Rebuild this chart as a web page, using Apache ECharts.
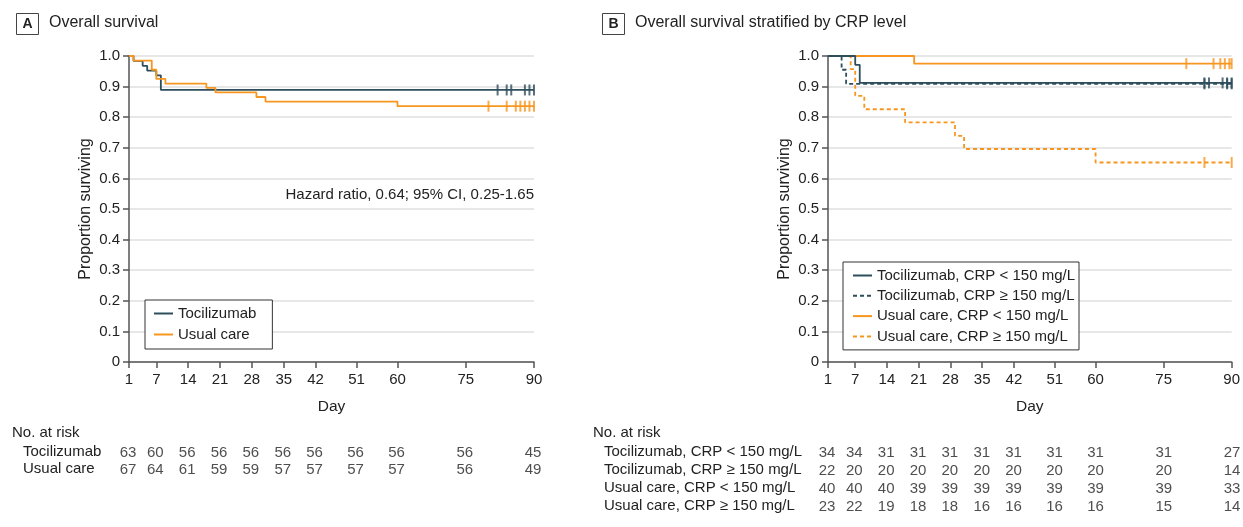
<!DOCTYPE html>
<html>
<head>
<meta charset="utf-8">
<script src="https://cdn.jsdelivr.net/npm/echarts@6/dist/echarts.min.js"></script>
<style>
  html, body { margin: 0; padding: 0; background: #fff; }
  #chart { width: 1243px; height: 527px; }
</style>
</head>
<body>
<div id="chart"></div>
<script>
// x axis ticks (days) and the risk table columns
const dayTicks = [1, 7, 14, 21, 28, 35, 42, 51, 60, 75, 90];

// Panel A - overall survival
const tociDays = [1, 2, 4, 5, 7, 8, 90];
const tociSurv = [1, 0.984, 0.968, 0.952, 0.937, 0.889, 0.889];
const tociCensor = [82, 84, 85, 88, 89, 90];
const usualDays = [1, 2, 6, 7, 9, 18, 20, 29, 31, 60, 90];
const usualSurv = [1, 0.985, 0.955, 0.925, 0.910, 0.896, 0.881, 0.866, 0.851, 0.836, 0.836];
const usualCensor = [80, 84, 86, 87, 88, 89, 90];

// Panel B - stratified by CRP
const tociLowDays = [1, 7, 8, 90];
const tociLowSurv = [1, 0.971, 0.912, 0.912];
const tociLowCensor = [84, 85, 88, 89, 90];
const tociHighDays = [1, 4, 5, 90];
const tociHighSurv = [1, 0.955, 0.909, 0.909];
const tociHighCensor = [84, 89, 90];
const usualLowDays = [1, 20, 90];
const usualLowSurv = [1, 0.975, 0.975];
const usualLowCensor = [80, 86, 87.5, 88.5, 89.5, 90];
const usualHighDays = [1, 6, 7, 9, 18, 29, 31, 60, 90];
const usualHighSurv = [1, 0.957, 0.870, 0.826, 0.783, 0.739, 0.696, 0.652, 0.652];
const usualHighCensor = [84, 90];

// numbers at risk
const riskRowsA = ['Tocilizumab', 'Usual care'];
const riskA = [
  [63, 60, 56, 56, 56, 56, 56, 56, 56, 56, 45],
  [67, 64, 61, 59, 59, 57, 57, 57, 57, 56, 49]
];
const riskRowsB = ['Tocilizumab, CRP < 150 mg/L', 'Tocilizumab, CRP ≥ 150 mg/L',
  'Usual care, CRP < 150 mg/L', 'Usual care, CRP ≥ 150 mg/L'];
const riskB = [
  [34, 34, 31, 31, 31, 31, 31, 31, 31, 31, 27],
  [22, 20, 20, 20, 20, 20, 20, 20, 20, 20, 14],
  [40, 40, 40, 39, 39, 39, 39, 39, 39, 39, 33],
  [23, 22, 19, 18, 18, 16, 16, 16, 16, 15, 14]
];

const DARK = '#2e4e5c';
const ORANGE = '#f7961f';
const FONT = '"Liberation Sans", Arial, sans-serif';
const TXT = '#222';

function pairs(days, surv) {
  return days.map((d, i) => [d, surv[i]]);
}
function censorPts(days, surv, cens) {
  return cens.map(c => {
    let s = surv[0];
    for (let i = 0; i < days.length; i++) if (days[i] <= c) s = surv[i];
    return [c, s];
  });
}
function kmLine(name, days, surv, color, dashed, idx) {
  return {
    name: name, type: 'line', step: 'end', symbol: 'none',
    xAxisIndex: idx, yAxisIndex: idx,
    lineStyle: { color: color, width: 1.8, type: dashed ? [4, 3] : 'solid' },
    itemStyle: { color: color },
    data: pairs(days, surv), z: 3
  };
}
function censor(days, surv, cens, color, idx) {
  return {
    type: 'scatter', symbol: 'rect', symbolSize: [2, 11],
    xAxisIndex: idx, yAxisIndex: idx,
    itemStyle: { color: color }, silent: true,
    data: censorPts(days, surv, cens), z: 4
  };
}
function riskSeries(table, idx) {
  const data = [];
  table.forEach((row, r) => row.forEach((v, c) => data.push([dayTicks[c], r, v])));
  return {
    type: 'scatter', symbolSize: 0, xAxisIndex: idx, yAxisIndex: idx, silent: true,
    label: {
      show: true, position: 'inside', offset: [-1, 1], formatter: p => p.value[2],
      color: TXT, fontSize: 15, fontFamily: FONT
    },
    data: data
  };
}

function plotX(idx) {
  return {
    gridIndex: idx, type: 'value', min: 1, max: 90,
    name: 'Day', nameLocation: 'middle', nameGap: 37,
    nameTextStyle: { color: TXT, fontSize: 15.5, fontFamily: FONT },
    axisLine: { lineStyle: { color: '#555', width: 1.5 } },
    axisTick: { length: 6, customValues: dayTicks, lineStyle: { color: '#555', width: 1.5 } },
    axisLabel: { customValues: dayTicks, margin: 10, color: TXT, fontSize: 15, fontFamily: FONT },
    splitLine: { show: false }
  };
}
function plotY(idx) {
  return {
    gridIndex: idx, type: 'value', min: 0, max: 1, interval: 0.1,
    name: 'Proportion surviving', nameLocation: 'middle', nameGap: 35,
    nameTextStyle: { color: TXT, fontSize: 16, fontFamily: FONT },
    axisLine: { show: true, lineStyle: { color: '#555', width: 1.5 } },
    axisTick: { show: true, length: 6, lineStyle: { color: '#555', width: 1.5 } },
    axisLabel: {
      margin: 9, color: TXT, fontSize: 15, fontFamily: FONT,
      formatter: v => v === 0 ? '0' : v.toFixed(1)
    },
    splitLine: { lineStyle: { color: '#dfdfdf', width: 1.5 } }
  };
}
function riskX(idx) {
  return { gridIndex: idx, type: 'value', min: 1, max: 90, show: false };
}
function riskY(idx, rows, margin) {
  return {
    gridIndex: idx, type: 'category', data: rows, inverse: true,
    axisLine: { show: false }, axisTick: { show: false }, splitLine: { show: false },
    axisLabel: { interval: 0, align: 'left', margin: margin, color: TXT, fontSize: 15, fontFamily: FONT }
  };
}
function legendBox(names, left, top, gap, padding) {
  return {
    data: names,
    orient: 'vertical', left: left, top: top,
    itemWidth: 19, itemHeight: 14, itemGap: gap,
    padding: padding,
    borderColor: '#333', borderWidth: 1, backgroundColor: '#fff',
    itemStyle: { opacity: 0 },
    textStyle: { color: TXT, fontSize: 15, fontFamily: FONT, lineHeight: 14 }
  };
}

const chart = echarts.init(document.getElementById('chart'));
const option = {
  animation: false,
  grid: [
    { left: 129, top: 56, width: 405, height: 306 },
    { left: 828, top: 56, width: 405, height: 306 },
    { left: 129, top: 443.5, width: 405, height: 34 },
    { left: 828, top: 443.3, width: 405, height: 71.6 }
  ],
  xAxis: [plotX(0), plotX(1), riskX(2), riskX(3)],
  yAxis: [plotY(0), plotY(1), riskY(2, riskRowsA, 106), riskY(3, riskRowsB, 224)],
  legend: [
    legendBox(riskRowsA, 145, 300, 6, [6, 16, 7, 8]),
    legendBox(riskRowsB, 843, 262, 5.3, [6, 4, 6, 9])
  ],
  graphic: [
    { type: 'rect', shape: { x: 16.5, y: 13.5, width: 22, height: 21 }, style: { fill: '#fff', stroke: '#444', lineWidth: 1 } },
    { type: 'text', x: 27.5, y: 24, style: { text: 'A', font: 'bold 14px ' + FONT, fill: TXT, align: 'center', verticalAlign: 'middle' } },
    { type: 'text', x: 49, y: 23, style: { text: 'Overall survival', font: '16px ' + FONT, fill: TXT, verticalAlign: 'middle' } },
    { type: 'rect', shape: { x: 602.5, y: 13.5, width: 22, height: 21 }, style: { fill: '#fff', stroke: '#444', lineWidth: 1 } },
    { type: 'text', x: 613.5, y: 24, style: { text: 'B', font: 'bold 14px ' + FONT, fill: TXT, align: 'center', verticalAlign: 'middle' } },
    { type: 'text', x: 635, y: 23, style: { text: 'Overall survival stratified by CRP level', font: '16px ' + FONT, fill: TXT, verticalAlign: 'middle' } },
    { type: 'text', x: 534, y: 195, style: { text: 'Hazard ratio, 0.64; 95% CI, 0.25-1.65', font: '15px ' + FONT, fill: TXT, align: 'right', verticalAlign: 'middle' } },
    { type: 'text', x: 12, y: 433, style: { text: 'No. at risk', font: '15px ' + FONT, fill: TXT, verticalAlign: 'middle' } },
    { type: 'text', x: 593, y: 433, style: { text: 'No. at risk', font: '15px ' + FONT, fill: TXT, verticalAlign: 'middle' } }
  ],
  series: [
    kmLine('Tocilizumab', tociDays, tociSurv, DARK, false, 0),
    kmLine('Usual care', usualDays, usualSurv, ORANGE, false, 0),
    censor(tociDays, tociSurv, tociCensor, DARK, 0),
    censor(usualDays, usualSurv, usualCensor, ORANGE, 0),

    kmLine(riskRowsB[3], usualHighDays, usualHighSurv, ORANGE, true, 1),
    kmLine(riskRowsB[1], tociHighDays, tociHighSurv, DARK, true, 1),
    kmLine(riskRowsB[2], usualLowDays, usualLowSurv, ORANGE, false, 1),
    kmLine(riskRowsB[0], tociLowDays, tociLowSurv, DARK, false, 1),
    censor(usualHighDays, usualHighSurv, usualHighCensor, ORANGE, 1),
    censor(tociHighDays, tociHighSurv, tociHighCensor, DARK, 1),
    censor(usualLowDays, usualLowSurv, usualLowCensor, ORANGE, 1),
    censor(tociLowDays, tociLowSurv, tociLowCensor, DARK, 1),

    riskSeries(riskA, 2),
    riskSeries(riskB, 3)
  ]
};
chart.setOption(option);
</script>
</body>
</html>
